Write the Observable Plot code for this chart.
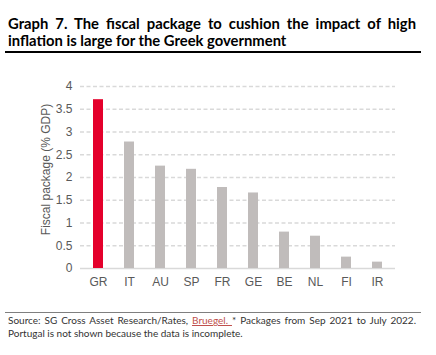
<!DOCTYPE html>
<html><head><meta charset="utf-8">
<script src="https://cdn.jsdelivr.net/npm/d3@7"></script>
<script src="https://cdn.jsdelivr.net/npm/@observablehq/plot@0.6"></script>
<style>
body{margin:0;background:#fff;width:436px;height:355px;position:relative;overflow:hidden;font-family:"Liberation Sans",Arial,sans-serif;}
#title{position:absolute;left:8px;top:15px;width:408px;font-family:Lato,sans-serif;font-weight:bold;font-size:14.8px;line-height:16.5px;text-align:justify;color:#000;}
#rule1{position:absolute;left:5px;top:51px;width:416px;height:2px;background:#000;}
#chart{position:absolute;left:0;top:60px;}
#rule2{position:absolute;left:5px;top:312px;width:416px;height:1px;background:#7f7f7f;}
#foot{position:absolute;left:8px;top:314px;width:408px;font-family:Lato,sans-serif;font-size:10px;line-height:12.7px;text-align:justify;color:#333;}
#foot .lk{color:#c0504d;text-decoration:underline;}
</style></head>
<body>
<div id="title">Graph 7. The fiscal package to cushion the impact of high inflation is large for the Greek government</div>
<div id="rule1"></div>
<div id="chart"></div>
<div id="rule2"></div>
<div id="foot">Source: SG Cross Asset Research/Rates, <span class="lk">Bruegel. </span>* Packages from Sep 2021 to July 2022. Portugal is not shown because the data is incomplete.</div>
<script>
const countries = ["GR","IT","AU","SP","FR","GE","BE","NL","FI","IR"];
const values = [3.71,2.78,2.25,2.18,1.78,1.66,0.80,0.71,0.25,0.14];
const yTicks = [0,0.5,1,1.5,2,2.5,3,3.5,4];
const yLabel = "Fiscal package (% GDP)";
const data = countries.map((c,i)=>({country:c, value:values[i], hl: c==="GR"}));
const chart = Plot.plot({
  width:436, height:240,
  marginLeft:80, marginRight:41, marginTop:26, marginBottom:32,
  style:{fontFamily:"'Liberation Sans',Arial,sans-serif", fontSize:"12px", color:"#595959", background:"transparent"},
  x:{domain:countries, paddingInner:0.68, paddingOuter:0.35, label:null},
  y:{domain:[0,4], ticks:yTicks, label:null},
  marks:[
    Plot.gridY(yTicks.filter(d=>d>0), {stroke:"#d9d9d9", strokeOpacity:1, strokeDasharray:"4,2.5", strokeWidth:1.3}),
    Plot.ruleY([0], {stroke:"#d9d9d9", strokeWidth:1.3}),
    Plot.barY(data, {x:"country", y:"value", fill:d=>d.hl?"#e4002b":"#c0bcbb"}),
    Plot.axisX({tickSize:0, tickPadding:9, fontSize:12, label:null}),
    Plot.axisY(yTicks, {tickSize:0, tickPadding:8, fontSize:12, tickFormat:d=>String(d), label:null}),
    Plot.text([yLabel], {frameAnchor:"left", rotate:-90, dx:-34, dy:-8, textAnchor:"middle", lineAnchor:"middle", fontSize:12, fill:"#595959"})
  ]
});
document.getElementById("chart").appendChild(chart);
</script>
</body></html>
